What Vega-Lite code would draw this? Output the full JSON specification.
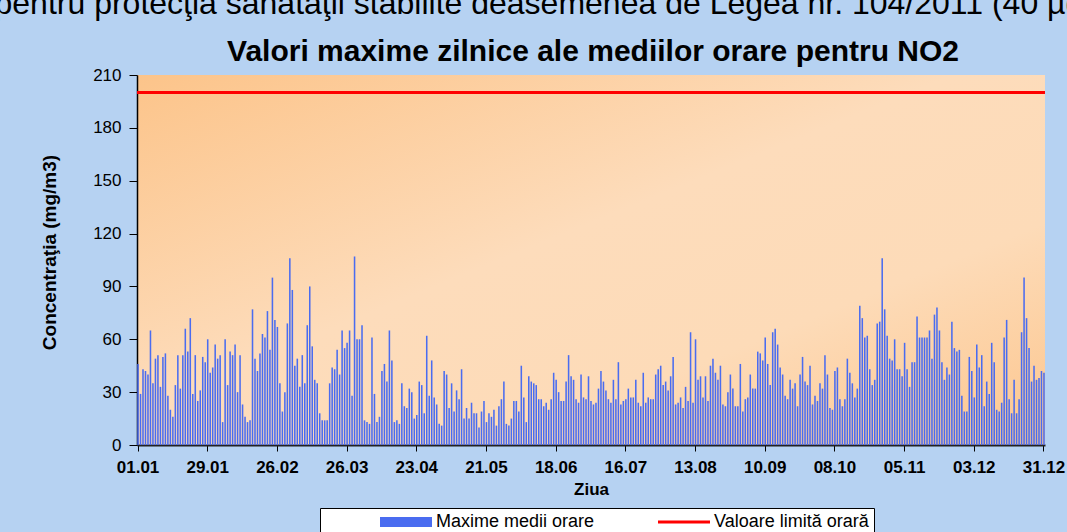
{
  "$schema": "https://vega.github.io/schema/vega-lite/v6.json",
  "width": 908,
  "height": 370,
  "autosize": {"type": "none"},
  "padding": {"left": 137, "top": 75, "right": 22, "bottom": 87},
  "background": "#b6d2f2",
  "title": {
    "text": "Valori maxime zilnice ale mediilor orare pentru NO2",
    "frame": "group",
    "anchor": "middle",
    "dx": 2,
    "font": "Liberation Sans",
    "fontSize": 30,
    "fontWeight": "bold",
    "color": "black",
    "offset": -80
  },
  "config": {
    "view": {
      "stroke": null,
      "fill": {
        "gradient": "linear",
        "x1": 0, "y1": 0, "x2": 1, "y2": 1,
        "stops": [
          {"offset": 0, "color": "#fcc48a"},
          {"offset": 0.45, "color": "#fddcbb"},
          {"offset": 0.7, "color": "#fddbb8"},
          {"offset": 1, "color": "#fcc68e"}
        ]
      }
    }
  },
  "resolve": {"axis": {"y": "independent"}},
  "datasets": {
    "zile": [
      {"d":1,"v":46},{"d":2,"v":29},{"d":3,"v":43},{"d":4,"v":42},{"d":5,"v":40},{"d":6,"v":65},{"d":7,"v":35},{"d":8,"v":49},{"d":9,"v":51},{"d":10,"v":33},
      {"d":11,"v":50},{"d":12,"v":52},{"d":13,"v":28},{"d":14,"v":20},{"d":15,"v":16},{"d":16,"v":34},{"d":17,"v":51},{"d":18,"v":32},{"d":19,"v":51},{"d":20,"v":66},
      {"d":21,"v":53},{"d":22,"v":72},{"d":23,"v":29},{"d":24,"v":51},{"d":25,"v":25},{"d":26,"v":31},{"d":27,"v":50},{"d":28,"v":47},{"d":29,"v":60},{"d":30,"v":41},
      {"d":31,"v":44},{"d":32,"v":57},{"d":33,"v":49},{"d":34,"v":51},{"d":35,"v":13},{"d":36,"v":60},{"d":37,"v":34},{"d":38,"v":53},{"d":39,"v":51},{"d":40,"v":57},
      {"d":41,"v":30},{"d":42,"v":51},{"d":43,"v":23},{"d":44,"v":16},{"d":45,"v":13},{"d":46,"v":14},{"d":47,"v":77},{"d":48,"v":49},{"d":49,"v":42},{"d":50,"v":52},
      {"d":51,"v":63},{"d":52,"v":61},{"d":53,"v":76},{"d":54,"v":54},{"d":55,"v":95},{"d":56,"v":71},{"d":57,"v":67},{"d":58,"v":35},{"d":59,"v":19},{"d":60,"v":30},
      {"d":61,"v":69},{"d":62,"v":106},{"d":63,"v":88},{"d":64,"v":45},{"d":65,"v":49},{"d":66,"v":33},{"d":67,"v":51},{"d":68,"v":35},{"d":69,"v":68},{"d":70,"v":90},
      {"d":71,"v":56},{"d":72,"v":37},{"d":73,"v":35},{"d":74,"v":18},{"d":75,"v":14},{"d":76,"v":14},{"d":77,"v":14},{"d":78,"v":35},{"d":79,"v":44},{"d":80,"v":43},
      {"d":81,"v":54},{"d":82,"v":40},{"d":83,"v":65},{"d":84,"v":55},{"d":85,"v":58},{"d":86,"v":65},{"d":87,"v":28},{"d":88,"v":107},{"d":89,"v":60},{"d":90,"v":60},
      {"d":91,"v":68},{"d":92,"v":14},{"d":93,"v":13},{"d":94,"v":12},{"d":95,"v":61},{"d":96,"v":29},{"d":97,"v":13},{"d":98,"v":16},{"d":99,"v":42},{"d":100,"v":46},
      {"d":101,"v":36},{"d":102,"v":65},{"d":103,"v":48},{"d":104,"v":13},{"d":105,"v":14},{"d":106,"v":12},{"d":107,"v":35},{"d":108,"v":22},{"d":109,"v":21},{"d":110,"v":32},
      {"d":111,"v":30},{"d":112,"v":15},{"d":113,"v":17},{"d":114,"v":36},{"d":115,"v":34},{"d":116,"v":18},{"d":117,"v":62},{"d":118,"v":28},{"d":119,"v":48},{"d":120,"v":27},
      {"d":121,"v":23},{"d":122,"v":12},{"d":123,"v":11},{"d":124,"v":42},{"d":125,"v":40},{"d":126,"v":21},{"d":127,"v":35},{"d":128,"v":19},{"d":129,"v":31},{"d":130,"v":26},
      {"d":131,"v":43},{"d":132,"v":15},{"d":133,"v":21},{"d":134,"v":15},{"d":135,"v":24},{"d":136,"v":18},{"d":137,"v":18},{"d":138,"v":10},{"d":139,"v":19},{"d":140,"v":25},
      {"d":141,"v":13},{"d":142,"v":18},{"d":143,"v":16},{"d":144,"v":20},{"d":145,"v":11},{"d":146,"v":22},{"d":147,"v":26},{"d":148,"v":36},{"d":149,"v":12},{"d":150,"v":11},
      {"d":151,"v":15},{"d":152,"v":25},{"d":153,"v":25},{"d":154,"v":19},{"d":155,"v":45},{"d":156,"v":27},{"d":157,"v":13},{"d":158,"v":39},{"d":159,"v":36},{"d":160,"v":35},
      {"d":161,"v":34},{"d":162,"v":26},{"d":163,"v":26},{"d":164,"v":22},{"d":165,"v":24},{"d":166,"v":20},{"d":167,"v":26},{"d":168,"v":41},{"d":169,"v":37},{"d":170,"v":30},
      {"d":171,"v":25},{"d":172,"v":25},{"d":173,"v":36},{"d":174,"v":51},{"d":175,"v":39},{"d":176,"v":37},{"d":177,"v":26},{"d":178,"v":24},{"d":179,"v":40},{"d":180,"v":27},
      {"d":181,"v":26},{"d":182,"v":39},{"d":183,"v":25},{"d":184,"v":23},{"d":185,"v":24},{"d":186,"v":32},{"d":187,"v":42},{"d":188,"v":36},{"d":189,"v":31},{"d":190,"v":26},
      {"d":191,"v":24},{"d":192,"v":37},{"d":193,"v":26},{"d":194,"v":47},{"d":195,"v":23},{"d":196,"v":25},{"d":197,"v":26},{"d":198,"v":32},{"d":199,"v":27},{"d":200,"v":27},
      {"d":201,"v":37},{"d":202,"v":24},{"d":203,"v":22},{"d":204,"v":41},{"d":205,"v":24},{"d":206,"v":27},{"d":207,"v":26},{"d":208,"v":26},{"d":209,"v":40},{"d":210,"v":43},
      {"d":211,"v":45},{"d":212,"v":34},{"d":213,"v":36},{"d":214,"v":31},{"d":215,"v":39},{"d":216,"v":50},{"d":217,"v":23},{"d":218,"v":24},{"d":219,"v":27},{"d":220,"v":21},
      {"d":221,"v":33},{"d":222,"v":25},{"d":223,"v":64},{"d":224,"v":24},{"d":225,"v":60},{"d":226,"v":37},{"d":227,"v":39},{"d":228,"v":27},{"d":229,"v":39},{"d":230,"v":25},
      {"d":231,"v":45},{"d":232,"v":49},{"d":233,"v":41},{"d":234,"v":37},{"d":235,"v":45},{"d":236,"v":23},{"d":237,"v":22},{"d":238,"v":30},{"d":239,"v":40},{"d":240,"v":32},
      {"d":241,"v":22},{"d":242,"v":22},{"d":243,"v":46},{"d":244,"v":19},{"d":245,"v":26},{"d":246,"v":27},{"d":247,"v":40},{"d":248,"v":32},{"d":249,"v":32},{"d":250,"v":53},
      {"d":251,"v":52},{"d":252,"v":48},{"d":253,"v":61},{"d":254,"v":46},{"d":255,"v":34},{"d":256,"v":64},{"d":257,"v":66},{"d":258,"v":57},{"d":259,"v":44},{"d":260,"v":40},
      {"d":261,"v":28},{"d":262,"v":26},{"d":263,"v":37},{"d":264,"v":32},{"d":265,"v":35},{"d":266,"v":22},{"d":267,"v":40},{"d":268,"v":50},{"d":269,"v":36},{"d":270,"v":34},
      {"d":271,"v":45},{"d":272,"v":23},{"d":273,"v":28},{"d":274,"v":25},{"d":275,"v":35},{"d":276,"v":32},{"d":277,"v":51},{"d":278,"v":40},{"d":279,"v":21},{"d":280,"v":20},
      {"d":281,"v":42},{"d":282,"v":44},{"d":283,"v":26},{"d":284,"v":22},{"d":285,"v":26},{"d":286,"v":49},{"d":287,"v":41},{"d":288,"v":35},{"d":289,"v":27},{"d":290,"v":32},
      {"d":291,"v":79},{"d":292,"v":72},{"d":293,"v":61},{"d":294,"v":62},{"d":295,"v":43},{"d":296,"v":34},{"d":297,"v":37},{"d":298,"v":69},{"d":299,"v":70},{"d":300,"v":106},
      {"d":301,"v":77},{"d":302,"v":62},{"d":303,"v":49},{"d":304,"v":48},{"d":305,"v":60},{"d":306,"v":43},{"d":307,"v":43},{"d":308,"v":39},{"d":309,"v":58},{"d":310,"v":43},
      {"d":311,"v":33},{"d":312,"v":47},{"d":313,"v":47},{"d":314,"v":73},{"d":315,"v":61},{"d":316,"v":61},{"d":317,"v":61},{"d":318,"v":61},{"d":319,"v":65},{"d":320,"v":49},
      {"d":321,"v":74},{"d":322,"v":78},{"d":323,"v":65},{"d":324,"v":47},{"d":325,"v":37},{"d":326,"v":44},{"d":327,"v":40},{"d":328,"v":70},{"d":329,"v":55},{"d":330,"v":53},
      {"d":331,"v":54},{"d":332,"v":28},{"d":333,"v":19},{"d":334,"v":19},{"d":335,"v":50},{"d":336,"v":42},{"d":337,"v":27},{"d":338,"v":57},{"d":339,"v":44},{"d":340,"v":51},
      {"d":341,"v":22},{"d":342,"v":36},{"d":343,"v":29},{"d":344,"v":58},{"d":345,"v":47},{"d":346,"v":20},{"d":347,"v":19},{"d":348,"v":24},{"d":349,"v":61},{"d":350,"v":71},
      {"d":351,"v":26},{"d":352,"v":18},{"d":353,"v":37},{"d":354,"v":18},{"d":355,"v":26},{"d":356,"v":64},{"d":357,"v":95},{"d":358,"v":72},{"d":359,"v":55},{"d":360,"v":36},
      {"d":361,"v":45},{"d":362,"v":37},{"d":363,"v":38},{"d":364,"v":42},{"d":365,"v":41}
    ],
    "limita": [{"v": 200}]
  },
  "layer": [
    {
      "data": {"name": "zile"},
      "mark": {"type": "bar", "opacity": 1},
      "encoding": {
        "x": {
          "field": "d",
          "type": "ordinal",
          "scale": {"paddingInner": 0.38, "paddingOuter": 0.1},
          "axis": {
            "values": [1, 29, 57, 85, 113, 141, 169, 197, 225, 253, 281, 309, 337, 365],
            "labelExpr": "timeFormat(datetime(2011, 0, datum.value), '%d.%m')",
            "labelAngle": 0,
            "labelOverlap": false,
            "labelFont": "Liberation Sans",
            "labelFontSize": 17,
            "labelFontWeight": "bold",
            "labelColor": "black",
            "labelPadding": 8,
            "ticks": true,
            "tickSize": 6,
            "tickColor": "black",
            "domainColor": "#222222",
            "domainWidth": 2,
            "title": "Ziua",
            "titleFont": "Liberation Sans",
            "titleFontSize": 17,
            "titleFontWeight": "bold",
            "titleColor": "black",
            "titlePadding": 6
          }
        },
        "y": {
          "field": "v",
          "type": "quantitative",
          "scale": {"domain": [0, 210], "nice": false},
          "axis": {
            "values": [0, 30, 60, 90, 120, 150, 180, 210],
            "grid": false,
            "labelFont": "Liberation Sans",
            "labelFontSize": 17,
            "labelColor": "black",
            "labelPadding": 8,
            "tickSize": 8,
            "tickColor": "black",
            "domainColor": "black",
            "domainWidth": 1.5,
            "title": "Concentraţia (mg/m3)",
            "titleFont": "Liberation Sans",
            "titleFontSize": 19,
            "titleFontWeight": "bold",
            "titleColor": "black",
            "titlePadding": 33,
            "titleY": 177
          }
        },
        "color": {
          "datum": "Maxime medii orare",
          "type": "nominal",
          "scale": {
            "domain": ["Maxime medii orare", "Valoare limită orară"],
            "range": ["#4a6cf0", "#ff0000"]
          },
          "legend": {
            "title": null,
            "orient": "none",
            "legendX": 183,
            "legendY": 433,
            "direction": "horizontal",
            "fillColor": "white",
            "strokeColor": "black",
            "padding": 5,
            "labelFont": "Liberation Sans",
            "labelFontSize": 18,
            "labelColor": "black",
            "symbolSize": 100,
            "symbolOffset": 72,
            "labelOffset": 21,
            "columnPadding": 8,
            "symbolType": "M-5.2,-1H5.2V1H-5.2Z",
            "symbolStrokeWidth": 0,
            "encoding": {
              "symbols": {
                "shape": {
                  "condition": {"test": "datum.value === 'Valoare limită orară'", "value": "M-5.2,-0.3H5.2V0.3H-5.2Z"},
                  "value": "M-5.2,-1H5.2V1H-5.2Z"
                },
                "fill": {
                  "condition": {"test": "datum.value === 'Valoare limită orară'", "value": "#ff0000"},
                  "value": "#4a6cf0"
                },
                "stroke": {"value": "transparent"},
                "opacity": {"value": 1}
              }
            }
          }
        }
      }
    },
    {
      "data": {"name": "limita"},
      "mark": {"type": "rule", "strokeWidth": 3},
      "encoding": {
        "y": {
          "field": "v",
          "type": "quantitative",
          "axis": {
            "orient": "right",
            "labels": false,
            "ticks": false,
            "domain": false,
            "grid": false,
            "title": "pentru protecţia sănătăţii stabilite deasemenea de Legea nr. 104/2011 (40 µg/m3)",
            "titleAngle": 0,
            "titleX": -1051,
            "titleY": -62,
            "titleAlign": "left",
            "titleBaseline": "alphabetic",
            "titleFont": "Liberation Sans",
            "titleFontSize": 32,
            "titleFontWeight": "normal",
            "titleColor": "black"
          }
        },
        "color": {"datum": "Valoare limită orară", "type": "nominal"}
      }
    }
  ]
}
